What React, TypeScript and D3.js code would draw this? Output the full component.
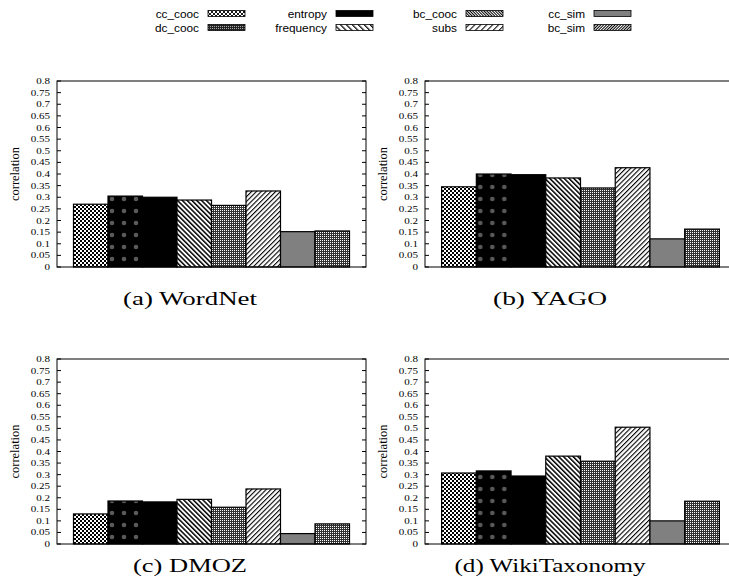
import React from 'react';
import * as d3 from 'd3';

const SERIES = ['cc_cooc', 'dc_cooc', 'entropy', 'frequency', 'bc_cooc', 'subs', 'cc_sim', 'bc_sim'];
const WORDNET = [0.27, 0.305, 0.3, 0.288, 0.265, 0.327, 0.152, 0.155];
const YAGO = [0.345, 0.4, 0.397, 0.383, 0.34, 0.427, 0.121, 0.163];
const DMOZ = [0.13, 0.186, 0.182, 0.193, 0.159, 0.238, 0.045, 0.087];
const WIKITAXONOMY = [0.307, 0.316, 0.294, 0.38, 0.358, 0.505, 0.1, 0.185];
const CAPTIONS = ['(a) WordNet', '(b) YAGO', '(c) DMOZ', '(d) WikiTaxonomy'];
const Y_TICKS = [0, 0.05, 0.1, 0.15, 0.2, 0.25, 0.3, 0.35, 0.4, 0.45, 0.5, 0.55, 0.6, 0.65, 0.7, 0.75, 0.8];
const Y_TICK_LABELS = ['0', '0.05', '0.1', '0.15', '0.2', '0.25', '0.3', '0.35', '0.4', '0.45', '0.5', '0.55', '0.6', '0.65', '0.7', '0.75', '0.8'];
const Y_LABEL = 'correlation';

const W = 729;
const H = 587;

const PANELS = [
  { values: WORDNET, caption: CAPTIONS[0], left: 57, right: 366, top: 81, bottom: 267, capX: 190, capY: 305, capW: 134 },
  { values: YAGO, caption: CAPTIONS[1], left: 425, right: 736, top: 81, bottom: 267, capX: 550, capY: 305, capW: 114 },
  { values: DMOZ, caption: CAPTIONS[2], left: 57, right: 366, top: 359, bottom: 544, capX: 190, capY: 572, capW: 114 },
  { values: WIKITAXONOMY, caption: CAPTIONS[3], left: 425, right: 736, top: 359, bottom: 544, capX: 550, capY: 572, capW: 191 },
];

const LEGEND_COLS = [199, 327, 457, 585];
const LEGEND_ROWS = [13.5, 27.5];

function barFill(s: string, pi: number) {
  switch (s) {
    case 'cc_cooc': return 'url(#p-cc)';
    case 'dc_cooc': return `url(#p-dc-${pi})`;
    case 'entropy': return '#000';
    case 'frequency': return 'url(#p-fr)';
    case 'bc_cooc': return 'url(#p-bc)';
    case 'subs': return 'url(#p-sb)';
    case 'cc_sim': return '#808080';
    case 'bc_sim': return 'url(#p-bc)';
  }
  return '#000';
}

function legendFill(s: string) {
  switch (s) {
    case 'cc_cooc': return 'url(#l-cc)';
    case 'dc_cooc': return 'url(#l-dc)';
    case 'entropy': return '#000';
    case 'frequency': return 'url(#l-fr)';
    case 'bc_cooc': return 'url(#l-bc)';
    case 'subs': return 'url(#l-sb)';
    case 'cc_sim': return '#808080';
    case 'bc_sim': return 'url(#l-bs)';
  }
  return '#000';
}

function Stripe({ id, period, thick, angle, bg = '#fff', fg = '#000' }: any) {
  return (
    <pattern id={id} width={period} height={period} patternUnits="userSpaceOnUse" patternTransform={`rotate(${angle})`}>
      <rect width={period} height={period} fill={bg} />
      <rect x={0} y={0} width={thick} height={period} fill={fg} />
    </pattern>
  );
}

function Panel({ p, pi }: any) {
  const y = d3.scaleLinear().domain([0, 0.8]).range([p.bottom, p.top]);
  const x = d3.scaleBand<string>().domain(SERIES).range([p.left, p.right]).paddingInner(0).paddingOuter(0.478);
  const midY = (p.top + p.bottom) / 2;
  return (
    <g>
      {SERIES.map((s, i) => {
        const v = p.values[i];
        return (
          <rect key={s} x={x(s)} y={y(v)} width={x.bandwidth()} height={y(0) - y(v)}
            fill={barFill(s, pi)} stroke="#000" strokeWidth={1.2} />
        );
      })}
      <rect x={p.left} y={p.top} width={p.right - p.left} height={p.bottom - p.top} fill="none" stroke="#000" strokeWidth={1} />
      {Y_TICKS.map((t, i) => (
        <g key={i}>
          <line x1={p.left} x2={p.left + 4} y1={y(t)} y2={y(t)} stroke="#000" strokeWidth={1} />
          <line x1={p.right} x2={p.right - 4} y1={y(t)} y2={y(t)} stroke="#000" strokeWidth={1} />
          <text transform={`translate(${p.left - 7},${y(t)}) scale(1.2,1)`} textAnchor="end" dy="0.33em"
            fontFamily="'Liberation Serif', serif" fontSize={9.2} fill="#000">{Y_TICK_LABELS[i]}</text>
        </g>
      ))}
      <text transform={`translate(${p.left - 38},${midY}) rotate(-90)`} textAnchor="middle"
        fontFamily="'Liberation Serif', serif" fontSize={12.5} fill="#000">{Y_LABEL}</text>
      <text x={p.capX} y={p.capY} textAnchor="middle" textLength={p.capW} lengthAdjust="spacingAndGlyphs"
        fontFamily="'Liberation Serif', serif" fontSize={18} fill="#000">{p.caption}</text>
    </g>
  );
}

export default function App() {
  return (
    <svg width={W} height={H} style={{ position: 'absolute', left: 0, top: 0, background: '#fff' }}>
      <defs>
        <pattern id="p-cc" width={4} height={4} patternUnits="userSpaceOnUse">
          <rect width={4} height={4} fill="#fff" />
          <rect x={0} y={0} width={2} height={2} fill="#000" />
          <rect x={2} y={2} width={2} height={2} fill="#000" />
        </pattern>
        {PANELS.map((p, pi) => {
          const x = d3.scaleBand<string>().domain(SERIES).range([p.left, p.right]).paddingInner(0).paddingOuter(0.478);
          return (
            <pattern key={pi} id={`p-dc-${pi}`} x={(x('dc_cooc') as number) - 2} y={p.top + 4} width={12} height={12} patternUnits="userSpaceOnUse">
              <rect width={12} height={12} fill="#000" />
              <circle cx={6} cy={6} r={2.3} fill="#5a5a5a" />
            </pattern>
          );
        })}
        <Stripe id="p-fr" period={3.4} thick={1.5} angle={-45} />
        <Stripe id="p-sb" period={3.4} thick={1.1} angle={45} />
        <pattern id="p-bc" width={2} height={2} patternUnits="userSpaceOnUse">
          <rect width={2} height={2} fill="#333" />
          <rect x={0} y={0} width={1} height={1} fill="#fff" />
        </pattern>
        <pattern id="l-cc" width={4} height={4} patternUnits="userSpaceOnUse">
          <rect width={4} height={4} fill="#fff" />
          <path d="M0,0L4,4M4,0L0,4" stroke="#000" strokeWidth={0.9} />
        </pattern>
        <pattern id="l-dc" width={2} height={2} patternUnits="userSpaceOnUse">
          <rect width={2} height={2} fill="#222" />
          <rect x={0} y={0} width={1} height={1} fill="#aaa" />
        </pattern>
        <Stripe id="l-fr" period={4.2} thick={1.2} angle={-45} />
        <Stripe id="l-sb" period={4.2} thick={1.0} angle={45} />
        <Stripe id="l-bc" period={2} thick={1} angle={-45} />
        <Stripe id="l-bs" period={2} thick={1} angle={45} />
      </defs>
      {SERIES.map((s, i) => {
        const col = Math.floor(i / 2);
        const row = i % 2;
        const tx = LEGEND_COLS[col];
        const cy = LEGEND_ROWS[row];
        return (
          <g key={s}>
            <text x={tx} y={cy + 4.2} textAnchor="end" fontFamily="'Liberation Sans', Arial, sans-serif" fontSize={11.8} fill="#000">{s}</text>
            <rect x={tx + 9} y={cy - 3} width={37} height={6} fill={legendFill(s)} stroke="#000" strokeWidth={0.8} />
          </g>
        );
      })}
      {PANELS.map((p, pi) => <Panel key={pi} p={p} pi={pi} />)}
    </svg>
  );
}
